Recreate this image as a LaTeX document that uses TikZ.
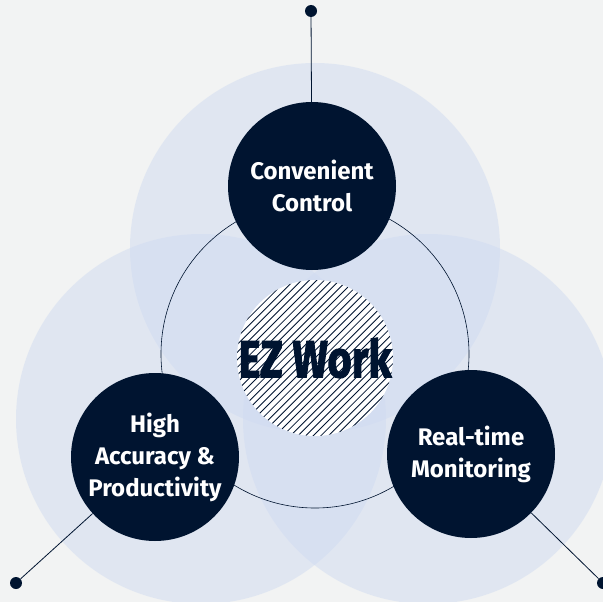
\documentclass[tikz,border=0pt]{standalone}
\usepackage{fontspec}
\setmainfont{Fira Sans}
\newfontfamily\ezfont{Fira Sans}[BoldFeatures={FakeBold=2}]
\usepackage{graphicx}

\definecolor{navy}{HTML}{001430}
\definecolor{paper}{HTML}{F2F3F3}
\definecolor{haze}{RGB}{208,219,241}

\tikzset{
    halo/.style={circle, fill=haze, fill opacity=0.5, minimum size=370pt, inner sep=0pt},
    topic/.style={circle, fill=navy, text=white, minimum size=168pt, inner sep=0pt,
        align=center, font=\bfseries\fontsize{24}{32}\selectfont},
    pin/.style={circle, fill=navy, minimum size=12pt, inner sep=0pt},
    wire/.style={draw=navy, line width=0.8pt},
}

\begin{document}
\begin{tikzpicture}[x=1pt,y=-1pt]

    \useasboundingbox (0,0) rectangle (603,602);
    \clip (0,0) rectangle (603,602);
    \fill[paper] (0,0) rectangle (603,602);

    % soft background discs
    \node[halo] (haloT) at (315,248) {};
    \node[halo] (haloL) at (201,419) {};
    \node[halo] (haloR) at (428,419) {};

    \node[circle, draw=navy, line width=0.6pt, minimum size=308pt, inner sep=0pt] (ring) at (315,354) {};

    \node[circle, fill=white, minimum size=156pt, inner sep=0pt] (hub) at (315,358) {};
    \begin{scope}
        \clip (hub.center) circle (78pt);
        \foreach \k in {-25,...,25}
            \draw[navy, line width=0.85pt, shift={(hub.center)}] (\k*7.6-100,100) -- ++(200,-200);
    \end{scope}
    \node[text=navy, font=\ezfont\bfseries\fontsize{52}{52}\selectfont] (ez) at (hub.center)
        {\scalebox{0.8}[1]{EZ Work}};

    \node[topic] (ctrl) at (312,186) {Convenient\\Control};
    \node[topic] (acc) at (155,457) {High\\Accuracy \&\\Productivity};
    \node[topic] (mon) at (471,454) {Real-time\\Monitoring};

    \node[pin] (pinT) at (311,11) {};
    \node[pin] (pinL) at (16,583) {};
    \node[pin] (pinR) at (603,583) {};

    \draw[wire] (pinT) -- (ctrl);
    \draw[wire] (pinL) -- (acc);
    \draw[wire] (pinR) -- (mon);

\end{tikzpicture}
\end{document}
